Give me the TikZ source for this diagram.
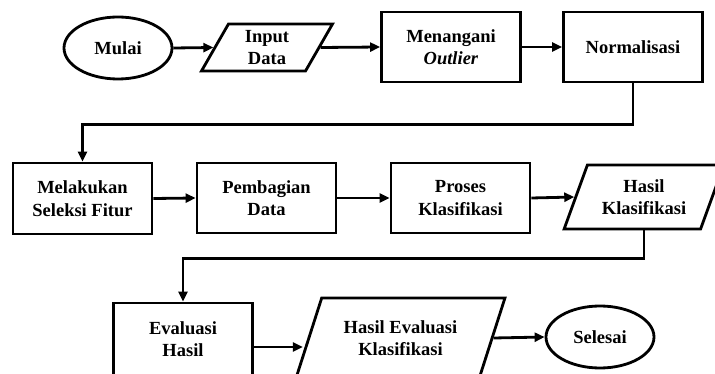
\documentclass[tikz,border=0pt]{standalone}
\usepackage{fontspec}
\setmainfont{Liberation Serif}
\usetikzlibrary{shapes.geometric,arrows.meta}
\begin{document}
\begin{tikzpicture}[x=1pt,y=-1pt,
  every node/.style={font=\fontsize{18.5}{22.5}\selectfont\bfseries, align=center, inner sep=0pt, line width=2.8pt},
  proc/.style={draw, rectangle, minimum width=139pt, minimum height=70pt},
  term/.style={draw, ellipse, minimum width=108pt, minimum height=62pt},
  io/.style={draw, trapezium, trapezium left angle=#1, trapezium right angle=180-#1, trapezium stretches=true},
  arr/.style={line width=2.8pt, -{Triangle[length=10pt,width=9pt]}}
]
\useasboundingbox (0,0) rectangle (715,374);
\fill[white] (0,0) rectangle (715,374);
\clip (0,0) rectangle (715,374);

% row 1
\node[term] (mulai) at (118,48) {Mulai};
\node[io=66, minimum width=132pt, minimum height=47pt] (inp) at (267,47.5) {Input\\Data};
\node[proc] (ment) at (451,47) {Menangani\\\textit{Outlier}};
\node[proc] (norm) at (633,47) {Normalisasi};

% row 2
\node[proc, minimum height=71pt] (sel) at (82.5,198.5) {Melakukan\\Seleksi Fitur};
\node[proc] (pem) at (266.5,198) {Pembagian\\Data};
\node[proc] (pro) at (460.5,198) {Proses\\Klasifikasi};
\node[io=64, minimum width=160pt, minimum height=64pt] (hk) at (644,197) {Hasil\\Klasifikasi};

% row 3
\node[proc, minimum height=72pt] (eva) at (183,339) {Evaluasi\\Hasil};
\node[io=62.5, minimum width=209pt, minimum height=80pt] (hev) at (400.5,338) {Hasil Evaluasi\\Klasifikasi};
\node[term] (sls) at (600,337) {Selesai};

% connectors
\draw[arr] (mulai.east) -- (inp.left side);
\draw[arr] (inp.right side) -- (ment.west);
\draw[arr] (ment.east) -- (norm.west);
\draw[arr] (norm.south) -- ++(0,41) -| (sel.north);
\draw[arr] (sel.east) -- (pem.west);
\draw[arr] (pem.east) -- (pro.west);
\draw[arr] (pro.east) -- (hk.left side);
\draw[arr] (hk.center |- hk.bottom side) -- ++(0,28) -| (eva.north);
\draw[arr] ([yshift=-8pt]eva.east) -- ([xshift=-4.6pt,yshift=-9pt]hev.left side);
\draw[arr] (hev.right side) -- (sls.west);
\end{tikzpicture}
\end{document}
